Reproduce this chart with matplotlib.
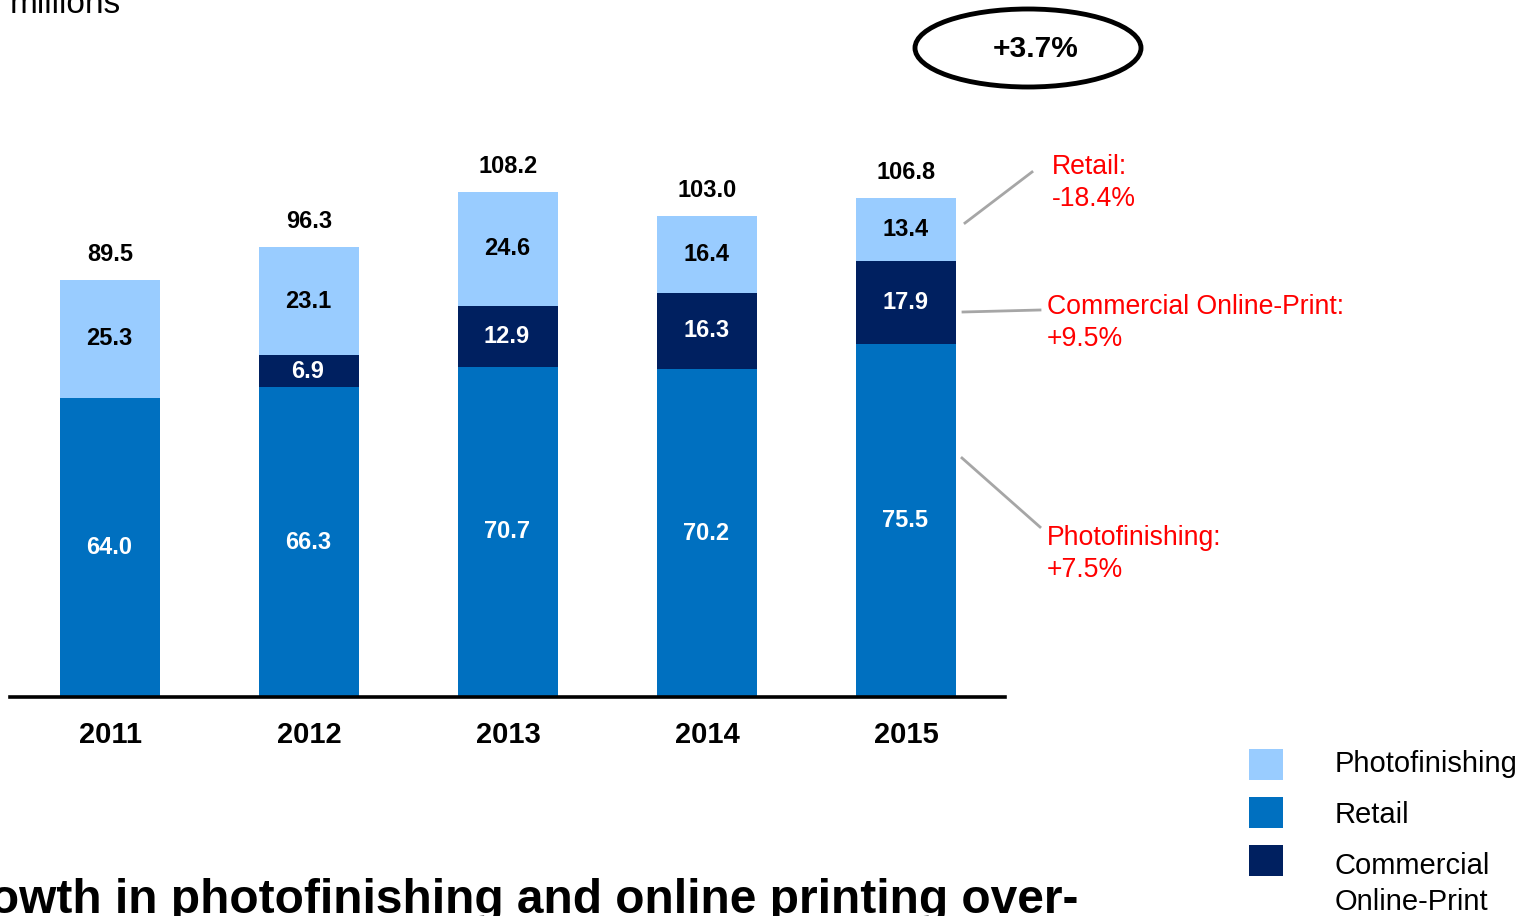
import matplotlib.pyplot as plt
from matplotlib.patches import Ellipse, Rectangle
from matplotlib.lines import Line2D

plt.rcParams['font.family'] = ['Liberation Sans', 'DejaVu Sans']

years = ['2011', '2012', '2013', '2014', '2015']
retail = [64.0, 66.3, 70.7, 70.2, 75.5]
commercial = [0.0, 6.9, 12.9, 16.3, 17.9]
photo = [25.3, 23.1, 24.6, 16.4, 13.4]
totals = [89.5, 96.3, 108.2, 103.0, 106.8]

c_light = '#99CCFF'
c_mid = '#0070C0'
c_dark = '#002060'
red = '#FF0000'

W, H = 1533, 916
fig = plt.figure(figsize=(W / 100, H / 100), dpi=100)

def px(x, y):
    return x / W, 1 - y / H

# axes spans pixel columns 10..1005, baseline at row 697
ax = fig.add_axes([10 / W, 219 / H, 995 / W, 697 / H])
x = list(range(len(years)))
bw = 0.503

ax.bar(x, retail, bw, color=c_mid)
ax.bar(x, commercial, bw, bottom=retail, color=c_dark)
base2 = [r + c for r, c in zip(retail, commercial)]
ax.bar(x, photo, bw, bottom=base2, color=c_light)

ax.set_xlim(-0.5025, 4.497)
ax.set_ylim(0, 149.2)
for s in ['top', 'left', 'right']:
    ax.spines[s].set_visible(False)
ax.spines['bottom'].set_linewidth(2.6)
ax.set_yticks([])
ax.set_xticks(x)
ax.set_xticklabels(years, fontsize=21, fontweight='bold')
ax.tick_params(axis='x', length=0, pad=17)

for i in x:
    ax.text(i - 0.005, retail[i] / 2, f'{retail[i]:.1f}', ha='center', va='center',
            color='white', fontsize=17, fontweight='bold')
    if commercial[i] > 0:
        ax.text(i - 0.005, retail[i] + commercial[i] / 2, f'{commercial[i]:.1f}',
                ha='center', va='center', color='white', fontsize=17, fontweight='bold')
    ax.text(i - 0.005, base2[i] + photo[i] / 2, f'{photo[i]:.1f}', ha='center',
            va='center', color='black', fontsize=17, fontweight='bold')
    ax.annotate(f'{totals[i]:.1f}', (i, base2[i] + photo[i]), xytext=(0, 10),
                textcoords='offset points', ha='center', va='bottom',
                fontsize=17, fontweight='bold')

# unit label and headline (both run off the slide edge)
fig.text(*px(121, 13), 'millions', ha='right', va='baseline', fontsize=24)
fig.text(*px(1078, 913), 'Growth in photofinishing and online printing over-',
         ha='right', va='baseline', fontsize=34.5, fontweight='bold')

# overall growth bubble
cx, cy = px(1028, 48)
fig.add_artist(Ellipse((cx, cy), 226 / W, 78 / H, transform=fig.transFigure,
                       fill=False, edgecolor='black', linewidth=3.5))
fig.text(*px(1036, 49), '+3.7%', ha='center', va='center', fontsize=21.5,
         fontweight='bold')

# segment growth callouts for 2015
callouts = [
    ((965, 223), (1032, 172), (1052, 166), 'Retail:\n-18.4%'),
    ((963, 312), (1040, 310), (1047, 306), 'Commercial Online-Print:\n+9.5%'),
    ((962, 458), (1040, 527), (1047, 537), 'Photofinishing:\n+7.5%'),
]
for p0, p1, pt, txt in callouts:
    a, b = px(*p0)
    c, d = px(*p1)
    fig.add_artist(Line2D([a, c], [b, d], transform=fig.transFigure,
                          color='#A6A6A6', linewidth=2))
    first, second = txt.split('\n')
    fig.text(*px(pt[0], pt[1] + 1), first, ha='left', va='center', color=red,
             fontsize=19.2)
    fig.text(*px(pt[0], pt[1] + 33), second, ha='left', va='center', color=red,
             fontsize=19.2)

# legend
legend_items = [(c_light, ['Photofinishing'], 749, 764),
                (c_mid, ['Retail'], 797, 815),
                (c_dark, ['Commercial', 'Online-Print'], 845, 866)]
for col, lines, top, ty in legend_items:
    lx, ly = px(1249, top + 31)
    fig.add_artist(Rectangle((lx, ly), 34 / W, 31 / H, transform=fig.transFigure,
                             facecolor=col, edgecolor='none'))
    for k, lab in enumerate(lines):
        fig.text(*px(1335, ty + 36 * k), lab, ha='left', va='center', fontsize=21)

fig.savefig('out.png', dpi=100)
